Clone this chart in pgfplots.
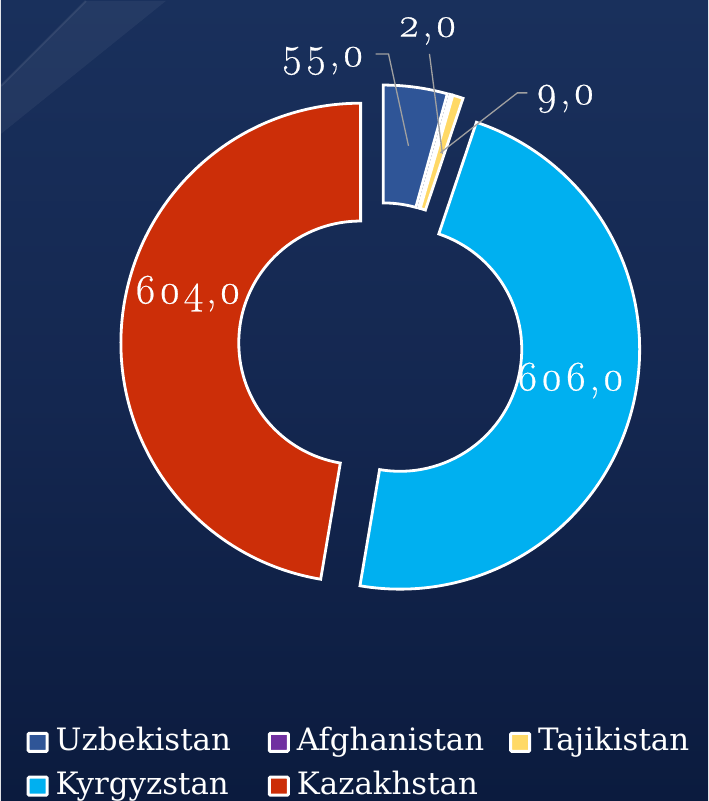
\documentclass[border=0pt]{standalone}
\usepackage{fontspec}
\setmainfont{Latin Modern Roman}[Numbers=OldStyle]
\newfontfamily\lblfont{Latin Modern Roman}[Numbers=OldStyle, LetterSpace=6, FakeBold=0.5]
\newfontfamily\legfont{DejaVu Serif}
\usepackage{pgfplots}
\usepackage{pgfplotstable}
\pgfplotsset{compat=1.18}

\definecolor{uzb}{RGB}{47,85,151}
\definecolor{afg}{RGB}{112,48,160}
\definecolor{taj}{RGB}{255,217,102}
\definecolor{kyr}{RGB}{0,176,240}
\definecolor{kaz}{RGB}{204,46,8}
\definecolor{bgtop}{RGB}{25,48,92}
\definecolor{bgmid}{RGB}{20,39,80}
\definecolor{bgbot}{RGB}{11,27,62}
\definecolor{leader}{RGB}{160,160,160}

\pgfplotstableread{
country value
Uzbekistan 55
Afghanistan 2
Tajikistan 9
Kyrgyzstan 606
Kazakhstan 604
}\data

\newcommand\getv[2]{\pgfplotstablegetelem{#1}{value}\of\data\let#2\pgfplotsretval}

% centre, radii and explosion (in px of the 708x801 picture, y upwards)
\def\cx{380}\def\cy{457}\def\Ro{240}\def\Ri{122}\def\ex{20}

\newcommand\sector[3]{%
  \pgfmathsetmacro\mA{(#1+#2)/2}%
  \pgfmathsetmacro\sx{\cx+\ex*cos(\mA)}%
  \pgfmathsetmacro\sy{\cy+\ex*sin(\mA)}%
  \pgfmathsetmacro\pxa{\sx+\Ro*cos(#1)}%
  \pgfmathsetmacro\pya{\sy+\Ro*sin(#1)}%
  \pgfmathsetmacro\pxb{\sx+\Ri*cos(#2)}%
  \pgfmathsetmacro\pyb{\sy+\Ri*sin(#2)}%
  \filldraw[fill=#3, draw=white, line width=2.8bp, line join=miter]
    (axis cs:\pxa,\pya) arc[start angle=#1, end angle=#2, radius=\Ro bp]
    -- (axis cs:\pxb,\pyb) arc[start angle=#2, end angle=#1, radius=\Ri bp]
    -- cycle;
}

\begin{document}
\begin{tikzpicture}
\getv{0}\vA \getv{1}\vB \getv{2}\vC \getv{3}\vD \getv{4}\vE
\pgfmathsetmacro\T{\vA+\vB+\vC+\vD+\vE}
\pgfmathsetmacro\aA{90}
\pgfmathsetmacro\aB{90-(\vA)/\T*360}
\pgfmathsetmacro\aC{90-(\vA+\vB)/\T*360}
\pgfmathsetmacro\aD{90-(\vA+\vB+\vC)/\T*360}
\pgfmathsetmacro\aE{90-(\vA+\vB+\vC+\vD)/\T*360}
\pgfmathsetmacro\aF{-270}
\begin{axis}[
  x=1bp, y=1bp, xmin=0, xmax=708, ymin=0, ymax=801,
  scale only axis, hide axis, clip=false,
  legend columns=3,
  legend cell align=left,
  legend image code/.code={\filldraw[draw=white, line width=3bp, rounded corners=1bp] (0bp,-9bp) rectangle (19bp,9bp);},
  legend style={at={(axis cs:25.5,73)}, anchor=north west, draw=none, fill=none,
    text=white, font=\legfont\fontsize{31}{33}\selectfont,
    inner sep=0pt, row sep=16bp,
    nodes={inner sep=0pt, text height=22bp, text depth=6bp},
    /tikz/every odd column/.append style={column sep=7bp},
    /tikz/column 2/.style={column sep=37bp},
    /tikz/column 4/.style={column sep=25bp}},
]
% background
\fill[top color=bgtop, bottom color=bgbot, middle color=bgmid] (axis cs:0,0) rectangle (axis cs:708,801);
\fill[white, opacity=0.05] (axis cs:0,716) -- (axis cs:85,801) -- (axis cs:165,801) -- (axis cs:0,668) -- cycle;
\draw[white, opacity=0.08, line width=2bp] (axis cs:0,716) -- (axis cs:85,801);

\pgfplotsextra{%
  \sector{\aA}{\aB}{uzb}%
  \sector{\aB}{\aC}{afg}%
  \sector{\aC}{\aD}{taj}%
  \sector{\aD}{\aE}{kyr}%
  \sector{\aE}{\aF}{kaz}%
}

% leader lines
\draw[leader, line width=1.3bp] (axis cs:375,748) -- (axis cs:388,748) -- (axis cs:408,656);
\draw[leader, line width=1.3bp] (axis cs:429,748) -- (axis cs:442,648);
\draw[leader, line width=1.3bp] (axis cs:527,709) -- (axis cs:517,709) -- (axis cs:440,649);

% data labels
\begin{scope}[every node/.style={text=white, font=\lblfont\fontsize{42}{44}\selectfont, inner sep=0pt}]
\node at (axis cs:322,741) {55,0};
\node at (axis cs:427,771) {2,0};
\node at (axis cs:565,703) {9,0};
\node at (axis cs:187,508) {604,0};
\node at (axis cs:570,421) {606,0};
\end{scope}

\addlegendimage{fill=uzb}\addlegendentry{Uzbekistan}
\addlegendimage{fill=afg}\addlegendentry{Afghanistan}
\addlegendimage{fill=taj}\addlegendentry{Tajikistan}
\addlegendimage{fill=kyr}\addlegendentry{Kyrgyzstan}
\addlegendimage{fill=kaz}\addlegendentry{Kazakhstan}
\end{axis}
\end{tikzpicture}
\end{document}
